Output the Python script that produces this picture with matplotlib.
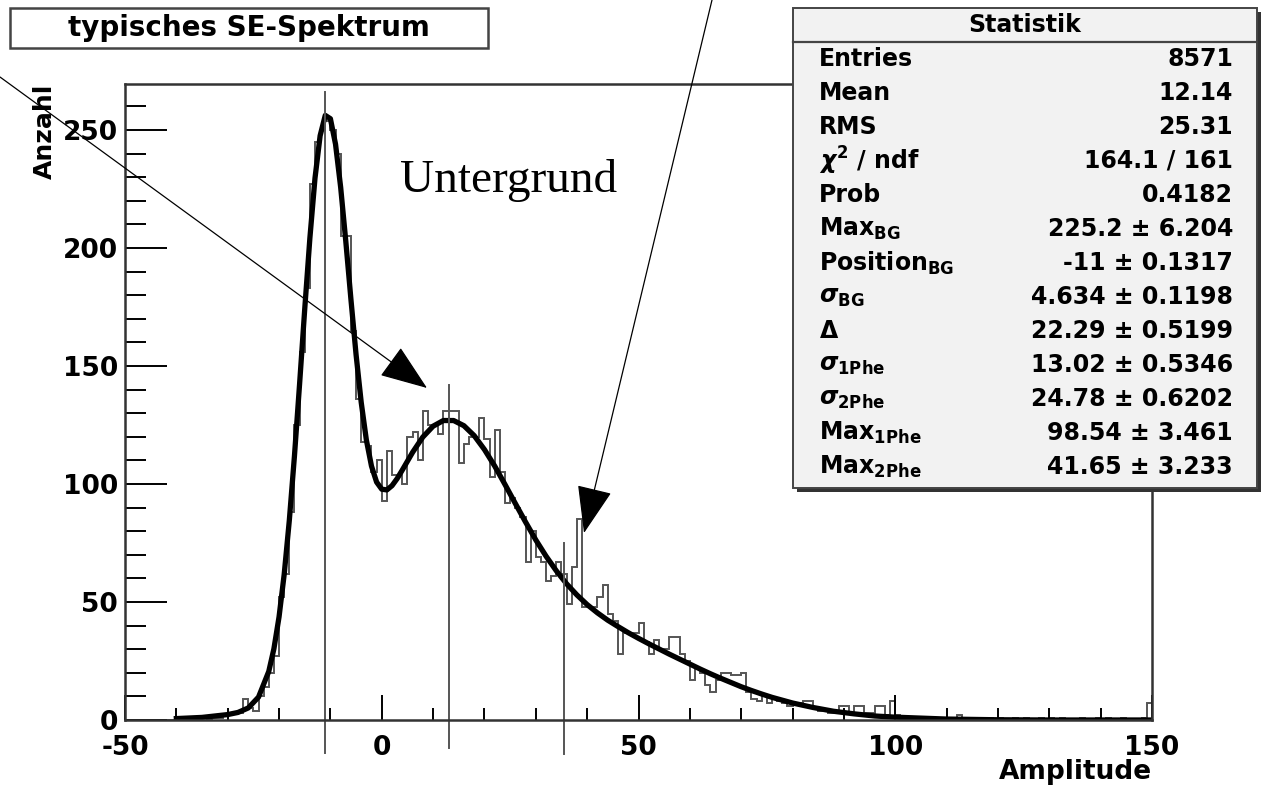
import numpy as np
import matplotlib.pyplot as plt
from matplotlib.patches import Rectangle, FancyArrowPatch

# histogram: 200 bins of width 1 from -50 to 150 (counts)
bin_edges = np.arange(-50, 151, 1)
counts = [
    # -50 .. -41
    0, 0, 0, 0, 0, 0, 0, 0, 0, 0,
    # -40 .. -31
    0, 0, 1, 0, 0, 1, 0, 1, 1, 2,
    # -30 .. -21
    2, 3, 3, 9, 5, 4, 10, 14, 20, 27,
    # -20 .. -11
    52, 62, 88, 125, 156, 183, 227, 245, 250, 254,
    # -10 .. -1
    250, 240, 205, 205, 165, 136, 118, 116, 105, 110,
    # 0 .. 9
    93, 114, 104, 104, 100, 120, 122, 110, 131, 125,
    # 10 .. 19
    125, 121, 131, 131, 131, 109, 117, 120, 120, 128,
    # 20 .. 29
    119, 103, 123, 105, 92, 94, 90, 86, 67, 80,
    # 30 .. 39
    69, 67, 59, 61, 67, 62, 49, 65, 85, 48,
    # 40 .. 49
    48, 48, 52, 57, 45, 42, 28, 37, 37, 37,
    # 50 .. 59
    41, 33, 28, 34, 30, 30, 35, 35, 28, 25,
    # 60 .. 69
    17, 22, 20, 15, 12, 17, 20, 20, 19, 19,
    # 70 .. 79
    20, 12, 9, 8, 10, 7, 9, 8, 7, 6,
    # 80 .. 89
    7, 7, 8, 8, 5, 4, 4, 3, 4, 6,
    # 90 .. 99
    6, 3, 6, 6, 3, 3, 6, 6, 2, 8,
    # 100 .. 109
    2, 1, 0, 0, 1, 1, 0, 1, 0, 0,
    # 110 .. 119
    1, 0, 2, 1, 1, 1, 0, 0, 1, 0,
    # 120 .. 129
    1, 0, 0, 1, 0, 1, 0, 0, 1, 0,
    # 130 .. 139
    1, 0, 1, 0, 0, 0, 1, 0, 0, 1,
    # 140 .. 149
    0, 1, 0, 0, 1, 0, 0, 0, 1, 7,
]

# fit curve (ROOT TF1, 3 gaussians)
fit_x = [-40, -35, -30, -28, -26, -24, -22, -21, -20, -19, -18, -17, -16, -15,
         -14, -13, -12, -11, -10, -9, -8, -7, -6, -5, -4, -3, -2, -1, 0, 1, 2,
         3, 4, 6, 8, 10, 12, 14, 16, 18, 20, 22, 24, 26, 28, 30, 32, 34, 36,
         38, 40, 42, 44, 46, 48, 50, 52, 54, 56, 58, 60, 62, 64, 66, 68, 70,
         72, 74, 76, 78, 80, 84, 88, 92, 96, 100, 110, 120, 130, 150]
fit_y = [0.6, 1.1, 2.3, 3.2, 5.1, 9.7, 20.6, 30.2, 43.7, 61.7, 84.6, 111.9,
         142.4, 174.1, 204.1, 229.6, 247.6, 256.2, 254.8, 244.0, 225.7, 202.8,
         178.2, 154.8, 134.6, 118.7, 107.6, 100.8, 97.8, 97.5, 99.3, 102.3,
         105.9, 113.4, 119.9, 124.5, 126.9, 126.9, 124.7, 120.5, 114.6, 107.6,
         99.8, 91.8, 83.9, 76.3, 69.4, 63.2, 57.7, 53.0, 48.9, 45.4, 42.3,
         39.6, 37.0, 34.6, 32.3, 30.1, 27.9, 25.8, 23.7, 21.6, 19.6, 17.7,
         15.9, 14.1, 12.5, 11.0, 9.6, 8.4, 7.2, 5.3, 3.7, 2.6, 1.7, 1.2, 0.4,
         0.1, 0.0, 0.0]

# hand drawn marker lines (x position, bottom / top in data units)
marker_x = [-11, 13, 35.5]
marker_bottom = [-14, -12, -14.5]
marker_top = [266, 142, 75]

stats_rows = [
    ("Entries", "8571"),
    ("Mean", "12.14"),
    ("RMS", "25.31"),
    (r"$\chi^2$ / ndf", "164.1 / 161"),
    ("Prob", "0.4182"),
    (r"Max$_{\mathregular{BG}}$", "225.2 ± 6.204"),
    (r"Position$_{\mathregular{BG}}$", "-11 ± 0.1317"),
    (r"$\sigma_{\mathregular{BG}}$", "4.634 ± 0.1198"),
    (r"$\Delta$", "22.29 ± 0.5199"),
    (r"$\sigma_{\mathregular{1Phe}}$", "13.02 ± 0.5346"),
    (r"$\sigma_{\mathregular{2Phe}}$", "24.78 ± 0.6202"),
    (r"Max$_{\mathregular{1Phe}}$", "98.54 ± 3.461"),
    (r"Max$_{\mathregular{2Phe}}$", "41.65 ± 3.233"),
]

plt.rcParams['font.family'] = ['DejaVu Sans']
plt.rcParams['font.weight'] = 'bold'
plt.rcParams['axes.unicode_minus'] = False
plt.rcParams['mathtext.fontset'] = 'dejavusans'

W, H = 1263, 787
fig = plt.figure(figsize=(W / 100, H / 100), dpi=100)
ax = fig.add_axes([125 / W, 1 - 720 / H, (1152 - 125) / W, (720 - 84) / H])

ax.stairs(counts, bin_edges, color='#555555', lw=1.4)
ax.plot(fit_x, fit_y, color='black', lw=3.8, solid_joinstyle='round')

for mx, mb, mt in zip(marker_x, marker_bottom, marker_top):
    ax.plot([mx, mx], [mb, mt], color='#555555', lw=1.4, clip_on=False)

ax.set_xlim(-50, 150)
ax.set_ylim(0, 269.5)
ax.set_xticks([-50, 0, 50, 100, 150])
ax.set_xticks(np.arange(-50, 151, 10), minor=True)
ax.set_yticks([0, 50, 100, 150, 200, 250])
ax.set_yticks(np.arange(0, 270, 10), minor=True)
ax.tick_params(axis='both', which='major', direction='in', length=30, width=1.4,
               labelsize=19, pad=5)
ax.tick_params(axis='both', which='minor', direction='in', length=15, width=1.4)
ax.tick_params(axis='x', which='major', length=18, pad=11)
ax.tick_params(axis='x', which='minor', length=9)
for lab in ax.get_xticklabels() + ax.get_yticklabels():
    lab.set_fontweight('bold')
for s in ax.spines.values():
    s.set_linewidth(1.8)
    s.set_color('#333333')

fig.text(1152 / W, 1 - 779 / H, 'Amplitude', ha='right', va='baseline',
         fontsize=19, fontweight='bold')
ax.set_ylabel('Anzahl', fontsize=18, fontweight='bold', loc='top', labelpad=4)

# title box
fig.patches.append(Rectangle((10 / W, 1 - 48 / H), 478 / W, 40 / H,
                             transform=fig.transFigure, fill=True, fc='white',
                             ec='#444444', lw=1.8))
fig.text(249 / W, 1 - 28 / H, 'typisches SE-Spektrum', ha='center', va='center',
         fontsize=20, fontweight='bold')

# stats box with shadow
fig.patches.append(Rectangle((797 / W, 1 - 492 / H), 464 / W, 480 / H,
                             transform=fig.transFigure, fc='#333333', ec='none'))
fig.patches.append(Rectangle((793 / W, 1 - 488 / H), 464 / W, 480 / H,
                             transform=fig.transFigure, fc='#f2f2f2',
                             ec='#444444', lw=1.4))
fig.lines.append(plt.Line2D([793 / W, 1257 / W], [1 - 42 / H, 1 - 42 / H],
                            transform=fig.transFigure, color='#444444', lw=1.6))
fig.text(1025 / W, 1 - 25 / H, 'Statistik', ha='center', va='center',
         fontsize=17, fontweight='bold')
for i, (name, val) in enumerate(stats_rows):
    yy = 1 - (59 + i * 34.0) / H
    fig.text(819 / W, yy, name, ha='left', va='center', fontsize=17, fontweight='bold')
    fig.text(1233 / W, yy, val, ha='right', va='center', fontsize=17, fontweight='bold')

# annotations
fig.text(400 / W, 1 - 180 / H, 'Untergrund', family='Liberation Serif',
         fontweight='normal', fontsize=34, ha='left', va='center')
head = '-|>,head_length=0.8,head_width=0.3'
fig.patches.append(FancyArrowPatch((0, 1 - 77 / H), (427 / W, 1 - 388 / H),
                                   transform=fig.transFigure, arrowstyle=head,
                                   mutation_scale=38, lw=0.9, color='black',
                                   shrinkA=0, shrinkB=0))
fig.patches.append(FancyArrowPatch((712 / W, 1.0), (584 / W, 1 - 533 / H),
                                   transform=fig.transFigure, arrowstyle=head,
                                   mutation_scale=38, lw=0.9, color='black',
                                   shrinkA=0, shrinkB=0))

fig.savefig('out.png', dpi=100)
